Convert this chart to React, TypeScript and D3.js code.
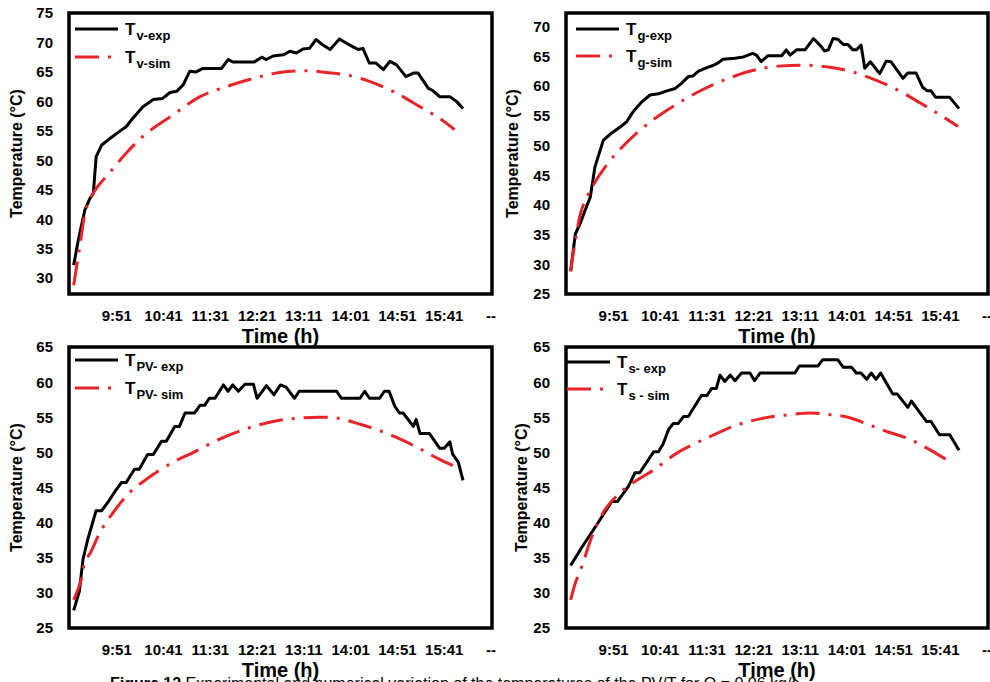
import React, { useRef, useEffect } from "react";
import { select, scaleLinear, line, curveLinear, curveCatmullRom } from "d3";

type Pt = [string, number];

// category axis of the Excel charts: a label every 50 minutes, last one shown as "--"
const timeTicks = ["9:51", "10:41", "11:31", "12:21", "13:11", "14:01", "14:51", "15:41", "16:31"];
const timeTickLabels = ["9:51", "10:41", "11:31", "12:21", "13:11", "14:01", "14:51", "15:41", "--"];
const timeDomain = ["9:00", "16:32"];

const ticksV = [30, 35, 40, 45, 50, 55, 60, 65, 70, 75];
const ticksG = [25, 30, 35, 40, 45, 50, 55, 60, 65, 70];
const ticksPV = [25, 30, 35, 40, 45, 50, 55, 60, 65];
const ticksS = [25, 30, 35, 40, 45, 50, 55, 60, 65];

const tvExp: Pt[] = [["9:05",32.2],["9:10",36.5],["9:17",41.6],["9:22",43.4],["9:26",44.4],["9:29",50.6],["9:35",52.6],["9:43",53.6],["9:54",54.9],["10:01",55.7],["10:08",57.1],["10:19",59.1],["10:30",60.3],["10:40",60.5],["10:48",61.5],["10:55",61.7],["11:02",62.8],["11:09",65.1],["11:16",65.0],["11:23",65.6],["11:43",65.6],["11:50",67.1],["11:55",66.7],["12:18",66.7],["12:26",67.5],["12:31",67.1],["12:38",67.7],["12:49",67.9],["12:56",68.5],["13:03",68.2],["13:10",68.9],["13:17",69.0],["13:24",70.5],["13:31",69.6],["13:39",68.8],["13:49",70.6],["13:56",69.9],["14:03",69.3],["14:09",68.8],["14:14",69.0],["14:21",66.5],["14:28",66.5],["14:36",65.4],["14:43",66.8],["14:50",66.2],["15:00",64.2],["15:08",64.8],["15:13",64.8],["15:24",62.2],["15:29",61.8],["15:36",60.8],["15:47",60.8],["15:54",60.0],["16:01",58.8]];
const tvSim: Pt[] = [["9:05",28.8],["9:11",34.8],["9:19",42.1],["9:29",45.2],["9:43",47.8],["10:01",51.2],["10:23",54.6],["10:51",57.7],["11:20",60.8],["11:48",62.5],["12:17",63.9],["12:45",64.9],["13:14",65.2],["13:35",64.9],["13:56",64.5],["14:21",63.4],["14:46",61.7],["15:15",59.1],["15:36",57.1],["15:52",55.2]];

const tgExp: Pt[] = [["9:05",28.9],["9:10",35.1],["9:15",36.8],["9:21",39.3],["9:26",41.3],["9:31",46.4],["9:40",50.9],["9:49",52.1],["9:58",53.1],["10:05",54.0],["10:12",55.7],["10:21",57.3],["10:30",58.5],["10:39",58.7],["10:48",59.2],["10:57",59.6],["11:04",60.5],["11:11",61.6],["11:16",61.7],["11:22",62.5],["11:31",63.1],["11:38",63.5],["11:43",63.9],["11:48",64.5],["12:01",64.7],["12:10",64.9],["12:20",65.5],["12:24",65.2],["12:29",64.1],["12:36",65.1],["12:51",65.1],["12:56",66.1],["13:00",65.2],["13:07",66.1],["13:16",66.1],["13:25",68.0],["13:32",66.9],["13:37",65.9],["13:41",66.1],["13:46",68.0],["13:51",67.9],["13:57",67.0],["14:02",67.0],["14:07",66.1],["14:11",66.1],["14:16",66.9],["14:20",63.0],["14:26",64.1],["14:36",62.1],["14:43",64.2],["14:48",64.1],["15:01",61.3],["15:06",62.2],["15:15",62.2],["15:22",59.8],["15:27",59.2],["15:31",59.2],["15:36",58.1],["15:51",58.1],["16:01",56.2]];
const tgSim: Pt[] = [["9:05",28.8],["9:10",34.0],["9:17",39.3],["9:28",43.0],["9:42",46.4],["10:00",49.7],["10:28",53.7],["10:57",56.8],["11:25",59.3],["11:54",61.3],["12:22",62.7],["12:51",63.4],["13:19",63.5],["13:41",63.2],["14:02",62.6],["14:27",61.3],["14:52",59.6],["15:20",57.1],["15:38",55.4],["16:00",53.2]];

const tpvExp: Pt[] = [["9:05",27.5],["9:11",30.2],["9:15",34.8],["9:20",37.6],["9:29",41.7],["9:35",41.7],["9:42",43.0],["9:49",44.4],["9:56",45.7],["10:01",45.7],["10:10",47.6],["10:15",47.6],["10:24",49.7],["10:30",49.7],["10:39",51.6],["10:44",51.6],["10:53",53.7],["10:58",53.7],["11:04",55.6],["11:14",55.6],["11:20",56.7],["11:25",56.7],["11:30",57.7],["11:36",57.7],["11:45",59.6],["11:50",58.7],["11:55",59.6],["12:01",58.7],["12:08",59.7],["12:17",59.7],["12:21",57.7],["12:31",59.5],["12:39",58.2],["12:46",59.6],["12:52",59.3],["13:01",57.7],["13:06",58.7],["13:46",58.7],["13:51",57.7],["14:11",57.7],["14:16",58.7],["14:21",57.7],["14:32",57.7],["14:37",58.7],["14:42",58.7],["14:48",56.6],["14:53",55.6],["14:57",55.6],["15:08",53.7],["15:11",54.7],["15:15",52.7],["15:25",52.7],["15:36",50.6],["15:41",50.6],["15:47",51.5],["15:50",49.7],["15:56",48.6],["16:01",46.0]];
const tpvSim: Pt[] = [["9:05",29.0],["9:12",31.4],["9:17",34.3],["9:24",36.0],["9:33",38.6],["9:47",41.4],["10:05",44.3],["10:23",46.2],["10:51",48.6],["11:13",50.0],["11:41",51.9],["12:10",53.4],["12:38",54.4],["12:59",54.8],["13:28",55.0],["13:46",54.9],["14:11",54.0],["14:36",52.9],["14:57",51.7],["15:15",50.5],["15:36",49.0],["15:59",47.6]];

const tsExp: Pt[] = [["9:05",33.9],["9:17",36.5],["9:31",39.3],["9:49",43.0],["9:55",43.0],["10:07",45.2],["10:14",47.1],["10:19",47.1],["10:34",50.1],["10:39",50.1],["10:44",51.2],["10:50",53.3],["10:55",54.1],["11:00",54.1],["11:06",55.1],["11:11",55.1],["11:25",58.1],["11:31",58.1],["11:36",59.1],["11:41",59.1],["11:45",61.0],["11:50",60.1],["11:56",61.0],["12:01",60.2],["12:08",61.3],["12:17",61.3],["12:22",60.2],["12:28",61.3],["13:05",61.3],["13:10",62.3],["13:30",62.3],["13:35",63.2],["13:51",63.2],["13:57",62.1],["14:06",62.1],["14:11",61.3],["14:16",61.3],["14:22",60.4],["14:27",61.3],["14:32",60.4],["14:37",61.3],["14:50",58.3],["14:55",58.3],["15:06",56.4],["15:10",57.3],["15:26",54.4],["15:31",54.4],["15:40",52.5],["15:51",52.5],["16:01",50.3]];
const tsSim: Pt[] = [["9:05",29.0],["9:10",31.4],["9:17",33.8],["9:28",38.1],["9:42",41.9],["10:00",44.5],["10:18",46.2],["10:35",47.6],["11:00",50.0],["11:32",52.1],["12:01",53.8],["12:29",54.8],["12:54",55.3],["13:23",55.6],["13:41",55.4],["14:02",55.0],["14:23",54.0],["14:45",52.9],["15:06",52.0],["15:28",50.5],["15:52",48.6]];

const RED = "#e8232a";
const FONT = "'Liberation Sans', Arial, sans-serif";

const toMin = (s: string) => {
  const [h, m] = s.split(":").map(Number);
  return h * 60 + m;
};

const panels = [
  { x: 69, y: 13, w: 423, h: 281, yDomain: [27.3, 75], yTicks: ticksV, exp: tvExp, sim: tvSim, expSub: "v-exp", simSub: "v-sim", legDx: 6, legDy1: 16, legDy2: 44, yLabDx: -47 },
  { x: 566, y: 13, w: 422, h: 281, yDomain: [25, 72.3], yTicks: ticksG, exp: tgExp, sim: tgSim, expSub: "g-exp", simSub: "g-sim", legDx: 10, legDy1: 16, legDy2: 43, yLabDx: -48.5 },
  { x: 69, y: 347, w: 423, h: 281, yDomain: [25, 65], yTicks: ticksPV, exp: tpvExp, sim: tpvSim, expSub: "PV- exp", simSub: "PV- sim", legDx: 6, legDy1: 13, legDy2: 41, yLabDx: -47 },
  { x: 566, y: 347, w: 422, h: 281, yDomain: [25, 65], yTicks: ticksS, exp: tsExp, sim: tsSim, expSub: "s- exp", simSub: "s - sim", legDx: 1, legDy1: 15, legDy2: 42, yLabDx: -39 },
];

function App() {
  const svgRef = useRef<SVGSVGElement>(null);

  useEffect(() => {
    const svg = select(svgRef.current);
    svg.selectAll("*").remove();

    panels.forEach((p) => {
      const g = svg.append("g").style("font-family", FONT).style("font-weight", "bold");
      const xscale = scaleLinear().domain(timeDomain.map(toMin)).range([p.x, p.x + p.w]);
      const yscale = scaleLinear().domain(p.yDomain).range([p.y + p.h, p.y]);

      const mkLine = (curve: any) =>
        line<Pt>()
          .x((d) => xscale(toMin(d[0])))
          .y((d) => yscale(d[1]))
          .curve(curve);

      g.append("path")
        .attr("d", mkLine(curveLinear)(p.exp))
        .attr("fill", "none")
        .attr("stroke", "#000")
        .attr("stroke-width", 3)
        .attr("stroke-linejoin", "round");

      g.append("path")
        .attr("d", mkLine(curveCatmullRom)(p.sim))
        .attr("fill", "none")
        .attr("stroke", RED)
        .attr("stroke-width", 3)
        .attr("stroke-dasharray", "24,9,3,9");

      g.append("rect")
        .attr("x", p.x)
        .attr("y", p.y)
        .attr("width", p.w)
        .attr("height", p.h)
        .attr("fill", "none")
        .attr("stroke", "#000")
        .attr("stroke-width", 3.5);

      // y axis labels
      g.selectAll(".ytick")
        .data(p.yTicks)
        .join("text")
        .attr("class", "ytick")
        .attr("x", p.x - 16)
        .attr("y", (d) => yscale(d))
        .attr("dy", "0.36em")
        .attr("text-anchor", "end")
        .attr("font-size", 15)
        .text((d) => d);

      // x axis labels
      g.selectAll(".xtick")
        .data(timeTicks)
        .join("text")
        .attr("class", "xtick")
        .attr("x", (d) => xscale(toMin(d)))
        .attr("y", p.y + p.h + 27)
        .attr("text-anchor", "middle")
        .attr("font-size", 15)
        .text((d, i) => timeTickLabels[i]);

      g.append("text")
        .attr("x", p.x + p.w / 2)
        .attr("y", p.y + p.h + 49)
        .attr("text-anchor", "middle")
        .attr("font-size", 20)
        .text("Time (h)");

      g.append("text")
        .attr("transform", `translate(${p.x + p.yLabDx},${p.y + p.h / 2}) rotate(-90)`)
        .attr("text-anchor", "middle")
        .attr("font-size", 16)
        .text("Temperature (°C)");

      // legend
      const lx = p.x + p.legDx;
      const ly1 = p.y + p.legDy1;
      const ly2 = p.y + p.legDy2;
      g.append("line")
        .attr("x1", lx).attr("x2", lx + 43)
        .attr("y1", ly1).attr("y2", ly1)
        .attr("stroke", "#000").attr("stroke-width", 3);
      g.append("line")
        .attr("x1", lx).attr("x2", lx + 36)
        .attr("y1", ly2).attr("y2", ly2)
        .attr("stroke", RED).attr("stroke-width", 3)
        .attr("stroke-dasharray", "24,9,3,9");

      [[ly1, p.expSub], [ly2, p.simSub]].forEach(([ly, sub]) => {
        const t = g.append("text").attr("x", lx + 50).attr("y", (ly as number) + 6).attr("font-size", 17);
        t.append("tspan").text("T");
        t.append("tspan").attr("dy", 5).attr("dx", 1).attr("font-size", 13).text(sub as string);
      });
    });

    const cap = svg.append("text")
      .attr("x", 110)
      .attr("y", 689)
      .attr("font-family", FONT)
      .attr("font-size", 16);
    cap.append("tspan").attr("font-weight", "bold").text("Figure 12");
    cap.append("tspan").text(" Experimental and numerical variation of the temperatures of the PV/T for Q = 0.06 kg/s");
  }, []);

  return (
    <React.Fragment>
      <svg
        ref={svgRef}
        width={990}
        height={682}
        style={{ position: "absolute", left: 0, top: 0, background: "#fff" }}
      ></svg>
    </React.Fragment>
  );
}

export default App;
